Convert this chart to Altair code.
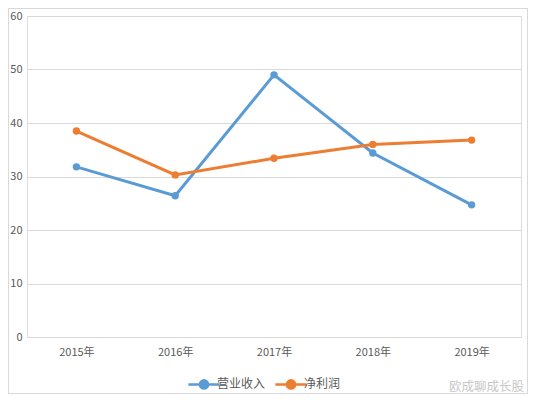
import altair as alt
import pandas as pd

years = ["2015年", "2016年", "2017年", "2018年", "2019年"]
revenue = [31.8, 26.4, 49.0, 34.4, 24.7]
profit = [38.5, 30.3, 33.4, 36.0, 36.8]
series = ["营业收入", "净利润"]
colors = ["#5B9BD5", "#ED7D31"]

df = pd.concat([
    pd.DataFrame({"year": years, "value": revenue, "series": series[0]}),
    pd.DataFrame({"year": years, "value": profit, "series": series[1]}),
])

W, H = 494, 321
FONT = "Noto Sans CJK SC"
legend_path = "M-1.6,0H1.6M-0.42,0a0.42,0.42 0 1,0 0.84,0a0.42,0.42 0 1,0 -0.84,0"

base = alt.Chart(df).encode(
    x=alt.X("year:O", sort=years, title=None,
            scale=alt.Scale(type="point", padding=0.5),
            axis=alt.Axis(labelAngle=0, ticks=False, domainColor="#d9d9d9",
                          labelColor="#595959", labelFontSize=11, labelPadding=9)),
    y=alt.Y("value:Q", title=None, scale=alt.Scale(domain=[0, 60]),
            axis=alt.Axis(values=[0, 10, 20, 30, 40, 50, 60], ticks=False, domain=False,
                          gridColor="#d9d9d9", labelColor="#595959", labelFontSize=11,
                          labelPadding=5)),
    color=alt.Color("series:N", sort=series, title=None,
                    scale=alt.Scale(domain=series, range=colors),
                    legend=alt.Legend(orient="none", legendX=166, legendY=357,
                                      direction="horizontal", symbolType=legend_path,
                                      symbolSize=380, symbolStrokeWidth=2.5,
                                      labelFontSize=12, labelColor="#595959",
                                      columnPadding=4, labelOffset=2)),
)

lines = base.mark_line(strokeWidth=3)
points = base.mark_circle(size=55, opacity=1)

border = alt.Chart(df).mark_rect(fill=None, stroke="#d9d9d9", strokeWidth=1).encode(
    x=alt.value(-18.5), x2=alt.value(W + 6.5), y=alt.value(-7.5), y2=alt.value(H + 56.5)
)
mark_text = alt.Chart(pd.DataFrame({"t": ["欧成聊成长股"]})).mark_text(
    font=FONT, fontSize=12.5, color="#c8c8c8", align="right", baseline="middle"
).encode(text="t:N", x=alt.value(W + 3), y=alt.value(H + 50))

chart = alt.layer(border, lines, points, mark_text).properties(
    width=W, height=H,
    autosize=alt.AutoSizeParams(type="none"),
    padding={"left": 19, "top": 8, "right": 7, "bottom": 57},
).configure_view(stroke=None).configure(font=FONT)

chart.save("out.html", embed_options={"renderer": "svg", "actions": False})
